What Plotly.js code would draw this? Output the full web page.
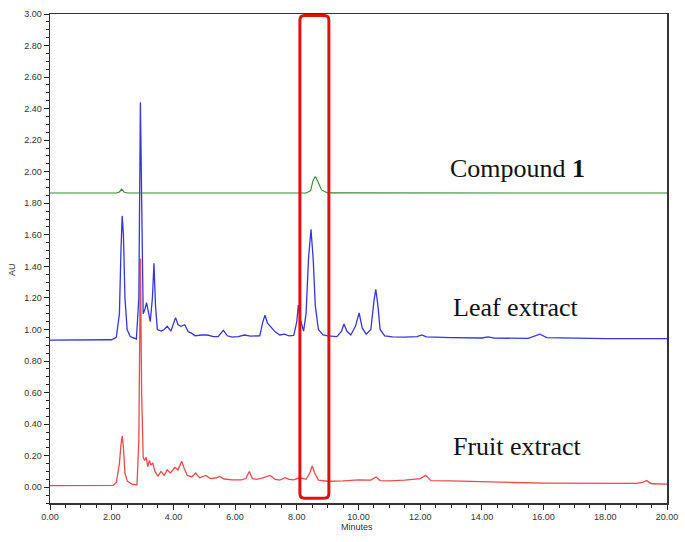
<!DOCTYPE html>
<html>
<head>
<meta charset="utf-8">
<script src="https://cdn.plot.ly/plotly-3.0.1.min.js"></script>
<style>html,body{margin:0;padding:0;background:#fff}#chart{width:685px;height:542px}</style>
</head>
<body>
<div id="chart"></div>
<script>
// Compound 1 (green)
const compoundT = [0, 2.15, 2.25, 2.32, 2.4, 2.5, 8.3, 8.45, 8.52, 8.6, 8.68, 8.8, 9.0, 20];
const compoundV = [1.865, 1.865, 1.872, 1.89, 1.872, 1.865, 1.865, 1.88, 1.94, 1.97, 1.94, 1.885, 1.866, 1.865];

// Leaf extract (blue)
const leafT = [0, 2.0, 2.15, 2.25, 2.3, 2.34, 2.38, 2.43, 2.5, 2.6, 2.8, 2.88, 2.93, 2.97, 3.02, 3.08, 3.13, 3.2, 3.25, 3.32, 3.37, 3.42, 3.48, 3.6, 3.7, 3.8, 3.92, 4.07, 4.15, 4.25, 4.37, 4.48, 4.6, 4.7, 4.9, 5.1, 5.3, 5.45, 5.62, 5.75, 5.9, 6.1, 6.3, 6.5, 6.8, 6.9, 6.97, 7.05, 7.15, 7.3, 7.45, 7.6, 7.75, 7.9, 8.0, 8.05, 8.12, 8.22, 8.3, 8.38, 8.46, 8.53, 8.6, 8.7, 8.85, 9.0, 9.3, 9.45, 9.53, 9.62, 9.75, 9.9, 10.02, 10.12, 10.25, 10.4, 10.5, 10.56, 10.63, 10.7, 10.85, 11.1, 11.5, 11.9, 12.05, 12.2, 13.0, 13.5, 14.0, 14.2, 14.4, 15.5, 15.88, 16.1, 17, 18, 20];
const leafV = [0.932, 0.935, 0.95, 1.1, 1.5, 1.72, 1.6, 1.2, 1.0, 0.955, 0.94, 1.2, 2.44, 1.8, 1.1, 1.13, 1.17, 1.1, 1.05, 1.2, 1.42, 1.15, 1.0, 0.99, 1.0, 1.02, 0.99, 1.075, 1.03, 1.02, 1.03, 0.985, 0.975, 0.96, 0.965, 0.965, 0.955, 0.955, 0.995, 0.96, 0.952, 0.955, 0.965, 0.958, 0.96, 1.05, 1.09, 1.04, 1.02, 0.985, 0.965, 0.97, 0.96, 0.962, 1.05, 1.155, 1.06, 0.99, 1.1, 1.45, 1.635, 1.45, 1.15, 1.0, 0.965, 0.96, 0.955, 0.99, 1.035, 0.99, 0.965, 1.02, 1.105, 1.01, 0.97, 1.0, 1.18, 1.255, 1.15, 1.0, 0.96, 0.953, 0.952, 0.955, 0.965, 0.953, 0.948, 0.945, 0.946, 0.953, 0.945, 0.944, 0.97, 0.948, 0.943, 0.942, 0.942];

// Fruit extract (red)
const fruitT = [0, 2.05, 2.15, 2.25, 2.3, 2.34, 2.38, 2.43, 2.5, 2.65, 2.82, 2.88, 2.93, 2.97, 3.02, 3.07, 3.12, 3.17, 3.22, 3.27, 3.33, 3.4, 3.5, 3.6, 3.7, 3.8, 3.9, 4.05, 4.15, 4.27, 4.35, 4.45, 4.6, 4.72, 4.85, 5.05, 5.2, 5.4, 5.5, 5.65, 5.9, 6.2, 6.35, 6.46, 6.56, 6.7, 6.9, 7.13, 7.3, 7.45, 7.62, 7.75, 7.9, 8.1, 8.3, 8.42, 8.5, 8.58, 8.7, 9.0, 9.5, 10.0, 10.4, 10.57, 10.7, 11.0, 11.5, 12.0, 12.18, 12.35, 13.0, 14.0, 15.0, 16.0, 17.0, 18.0, 19.0, 19.2, 19.34, 19.5, 20];
const fruitV = [0.01, 0.012, 0.03, 0.15, 0.27, 0.325, 0.25, 0.09, 0.04, 0.02, 0.015, 0.3, 1.45, 0.6, 0.19, 0.17, 0.19, 0.13, 0.17, 0.14, 0.155, 0.1, 0.07, 0.1, 0.075, 0.11, 0.09, 0.125, 0.11, 0.165, 0.12, 0.075, 0.065, 0.09, 0.06, 0.075, 0.055, 0.06, 0.068, 0.052, 0.047, 0.047, 0.055, 0.1, 0.055, 0.05, 0.06, 0.075, 0.05, 0.045, 0.06, 0.05, 0.047, 0.06, 0.05, 0.09, 0.135, 0.09, 0.045, 0.038, 0.04, 0.047, 0.045, 0.065, 0.042, 0.04, 0.045, 0.055, 0.075, 0.042, 0.04, 0.037, 0.03, 0.026, 0.024, 0.023, 0.024, 0.03, 0.042, 0.022, 0.02];

// Axis ticks
const xTickVals = [0, 2, 4, 6, 8, 10, 12, 14, 16, 18, 20];
const xTickText = xTickVals.map(v => v.toFixed(2));
const yTickVals = [0, 0.2, 0.4, 0.6, 0.8, 1.0, 1.2, 1.4, 1.6, 1.8, 2.0, 2.2, 2.4, 2.6, 2.8, 3.0];
const yTickText = yTickVals.map(v => v.toFixed(2));

// Labels
const labelText = ['Compound <b>1</b>', 'Leaf extract', 'Fruit extract'];
const labelX = [15.17, 15.1, 15.17];
const labelY = [2.02, 1.14, 0.26];

// Highlight box around compound 1 retention time
const boxX = [8.1, 9.04];
const boxY = [-0.07, 2.99];

const rx = 0.15, ry = 0.03;
const [bx0, bx1] = boxX, [by0, by1] = boxY;
const boxPath = `M ${bx0+rx},${by1} L ${bx1-rx},${by1} Q ${bx1},${by1} ${bx1},${by1-ry} ` +
  `L ${bx1},${by0+ry} Q ${bx1},${by0} ${bx1-rx},${by0} L ${bx0+rx},${by0} ` +
  `Q ${bx0},${by0} ${bx0},${by0+ry} L ${bx0},${by1-ry} Q ${bx0},${by1} ${bx0+rx},${by1} Z`;

const traces = [
  {x: fruitT, y: fruitV, mode: 'lines', line: {color: '#ea4a4a', width: 1.3}, hoverinfo: 'skip'},
  {x: leafT, y: leafV, mode: 'lines', line: {color: '#3535dc', width: 1.3}, hoverinfo: 'skip'},
  {x: compoundT, y: compoundV, mode: 'lines', line: {color: '#2e8b2e', width: 1.1}, hoverinfo: 'skip'}
];

const tickFont = {family: 'Arial, Liberation Sans, sans-serif', size: 9, color: '#333'};

const layout = {
  width: 685, height: 542,
  margin: {l: 50, r: 18, t: 14, b: 39},
  paper_bgcolor: '#fff', plot_bgcolor: '#fff',
  showlegend: false,
  xaxis: {
    range: [0, 20], tickvals: xTickVals, ticktext: xTickText,
    ticks: 'outside', ticklen: 5, tickwidth: 1, tickcolor: '#222',
    minor: {dtick: 0.5, ticks: 'outside', ticklen: 3, tickcolor: '#222'},
    showline: true, linecolor: '#333', linewidth: 1.5, mirror: true,
    showgrid: false, zeroline: false, tickfont: tickFont
  },
  yaxis: {
    range: [-0.1, 3.0], tickvals: yTickVals, ticktext: yTickText,
    ticks: 'outside', ticklen: 5, tickwidth: 1, tickcolor: '#222',
    minor: {dtick: 0.05, ticks: 'outside', ticklen: 3, tickcolor: '#222'},
    showline: true, linecolor: '#333', linewidth: 1.5, mirror: true,
    showgrid: false, zeroline: false, tickfont: tickFont
  },
  shapes: [
    {type: 'path', xref: 'x', yref: 'y', path: boxPath, line: {color: '#e01010', width: 3}}
  ],
  annotations: [
    ...labelText.map((t, i) => ({
      x: labelX[i], y: labelY[i], xref: 'x', yref: 'y', text: t, showarrow: false,
      font: {family: 'Liberation Serif, Times New Roman, serif', size: 26, color: '#111'}
    })),
    {x: 12, y: 270, xref: 'paper', yref: 'paper', text: 'AU', showarrow: false, textangle: -90,
     font: {family: 'Arial, Liberation Sans, sans-serif', size: 9, color: '#333'}},
    {x: 357, y: 15, xref: 'paper', yref: 'paper', text: 'Minutes', showarrow: false,
     font: {family: 'Arial, Liberation Sans, sans-serif', size: 9, color: '#333'}}
  ]
};
// Convert pixel positions for axis titles into paper coords
const pw = 685 - 50 - 18, ph = 542 - 14 - 39;
layout.annotations[3].x = (12 - 50) / pw; layout.annotations[3].y = (542 - 39 - 270) / ph;
layout.annotations[3].xanchor = 'center';
layout.annotations[4].x = (357 - 50) / pw; layout.annotations[4].y = -(527 - 503) / ph;
layout.annotations[4].yanchor = 'middle';

Plotly.newPlot('chart', traces, layout, {staticPlot: true, displayModeBar: false});
</script>
</body>
</html>
